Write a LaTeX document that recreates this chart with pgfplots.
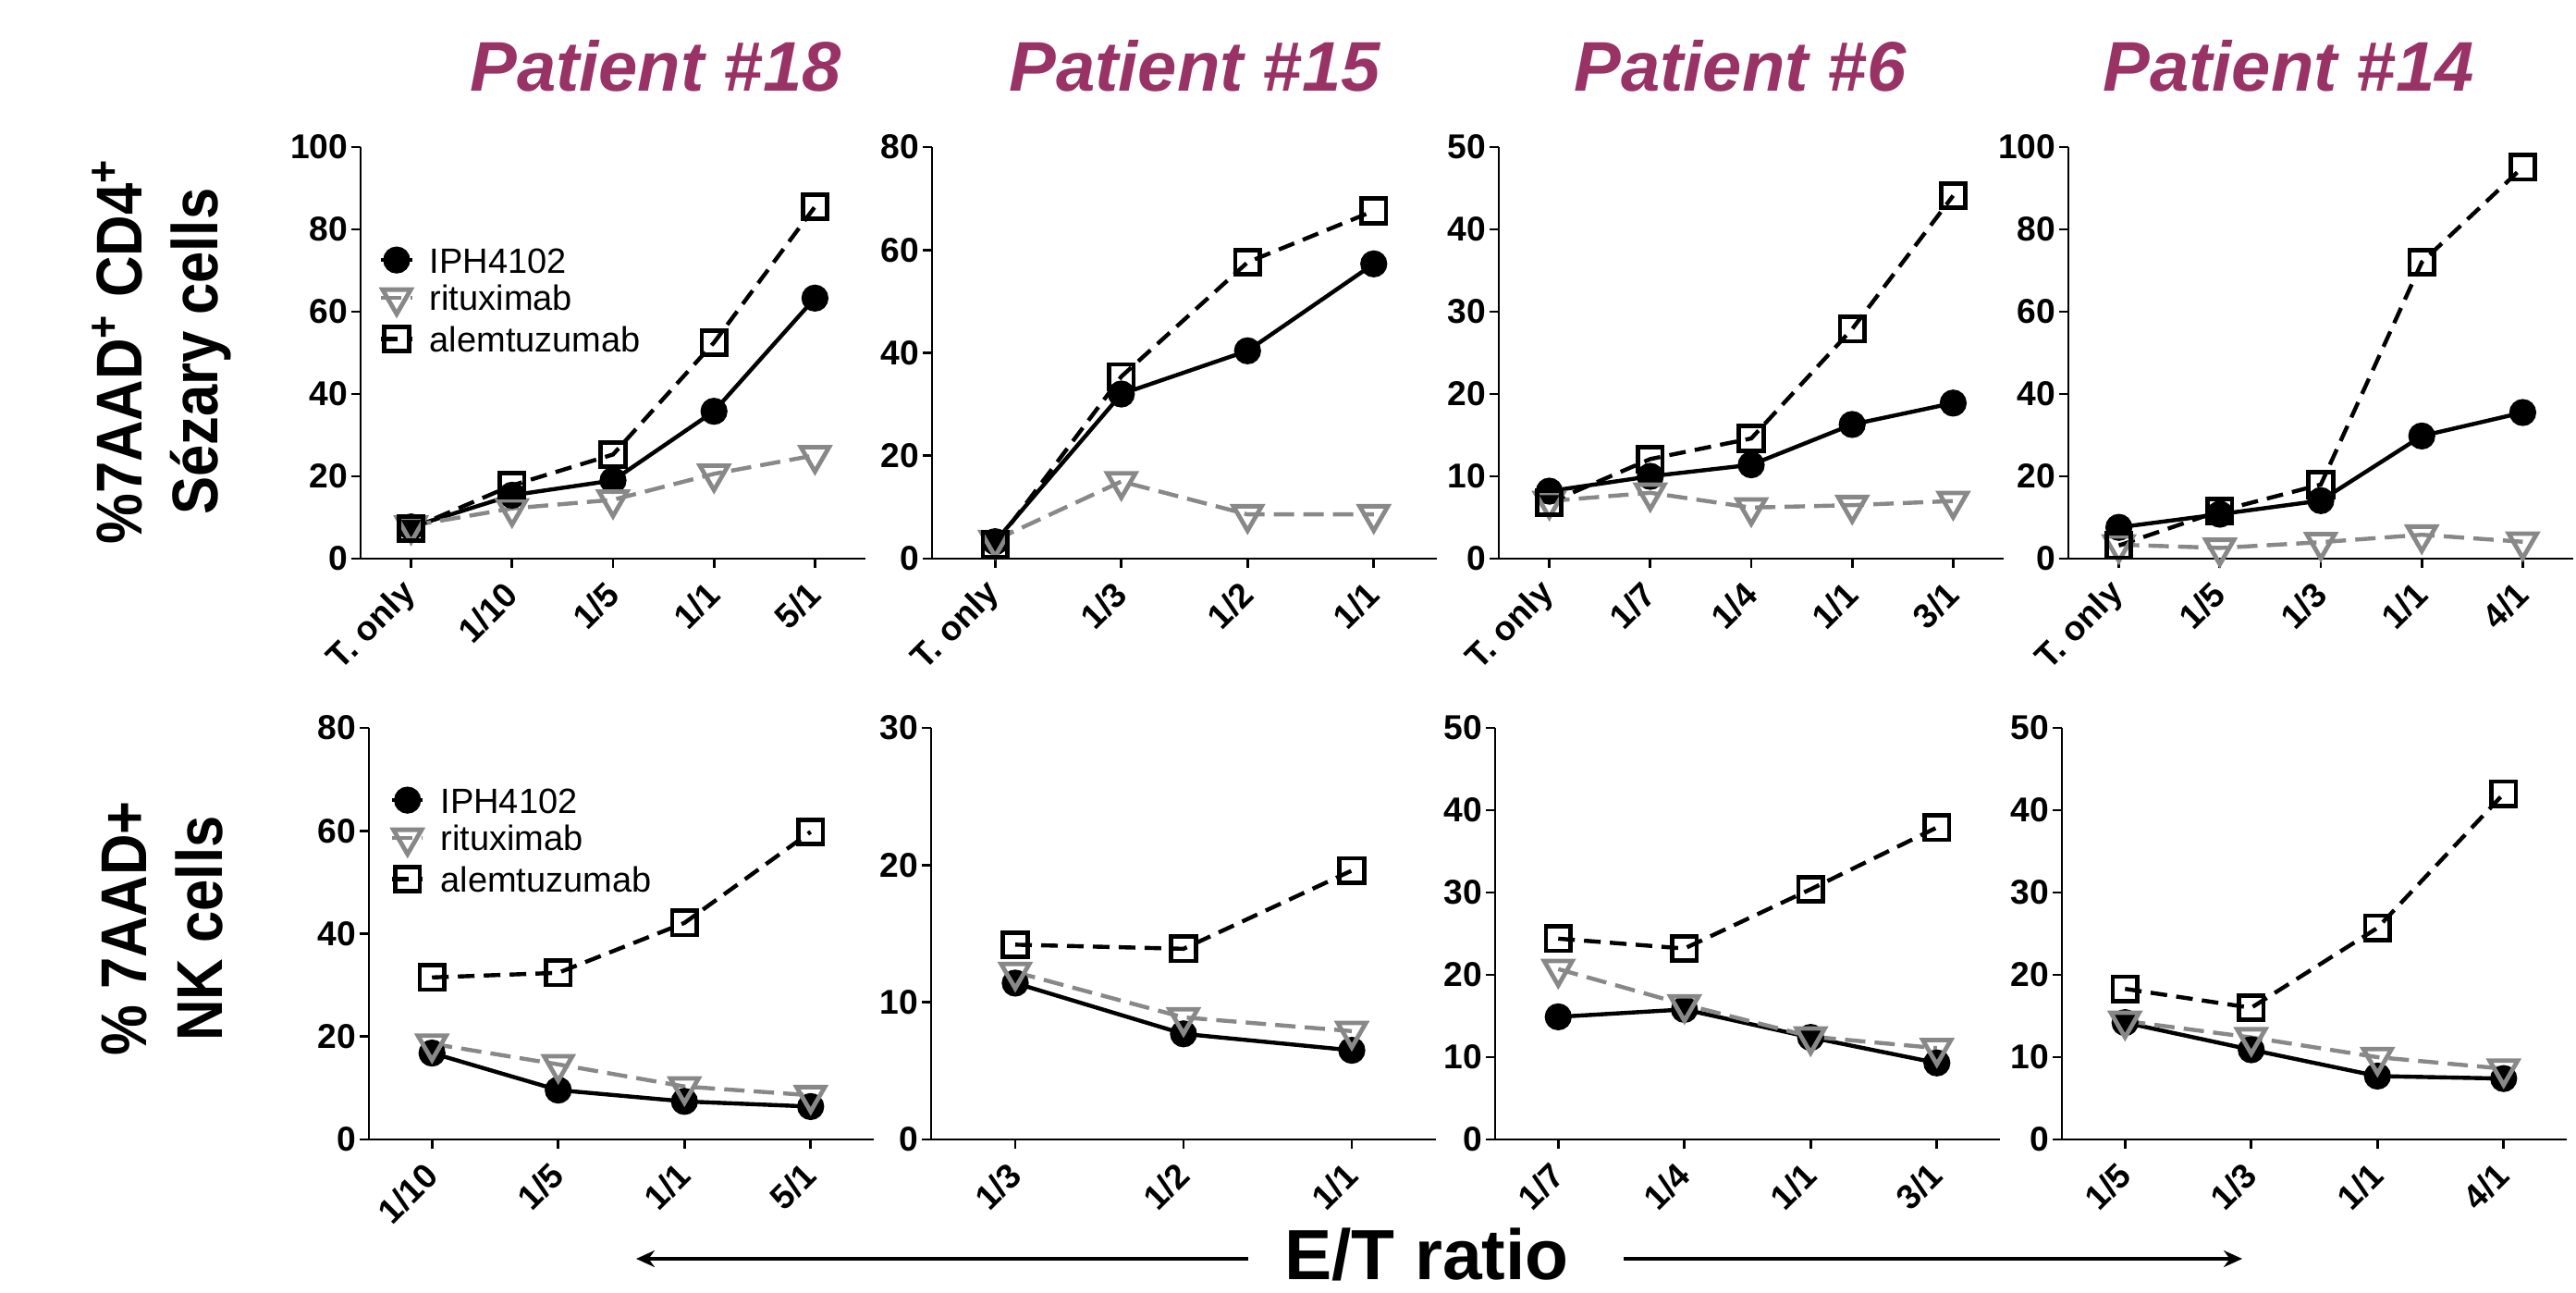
\documentclass[border=0pt]{standalone}
\usepackage{fontspec}
\setmainfont{Liberation Sans}
\newfontfamily\labelfont{Liberation Sans}[FakeStretch=0.88]
\usepackage{pgfplots}
\pgfplotsset{compat=1.18}
\usetikzlibrary{arrows.meta}
\definecolor{titlecol}{RGB}{153,51,102}
\definecolor{ritgray}{RGB}{136,136,136}

\pgfplotsset{
  panel/.style={
    scale only axis,
    width=136.5pt, height=111.25pt,
    axis x line*=bottom, axis y line*=left,
    axis line style={line width=0.7pt,-},
    every tick/.style={black, line width=0.7pt},
    tick align=outside,
    major tick length=2.5pt,
    ymin=0,
    clip=false,
    /pgf/number format/assume math mode=true,
    tick label style={font=\bfseries\fontsize{9.3}{10}\selectfont},
    yticklabel style={inner sep=0.75pt},
    xticklabel style={rotate=45, anchor=east, inner sep=0pt},
    xticklabel shift=5.5pt,
    legend cell align=left,
    legend image code/.code={\draw[mark repeat=2,mark phase=2,##1] plot coordinates {(0pt,0pt) (4.15pt,0pt) (8.3pt,0pt)};},
  },
  iph/.style={black, line width=1.1pt, solid, mark=*, mark size=3.1pt, mark options={solid, fill=black}},
  rit/.style={ritgray, line width=1.1pt, dash pattern=on 5.5pt off 2.5pt, mark=triangle, mark size=4.4pt, mark options={solid, rotate=180, fill=white, draw=ritgray, line width=1.2pt}},
  ale/.style={black, line width=1.1pt, dash pattern=on 4.5pt off 2.5pt, mark=square, mark size=3.3pt, mark options={solid, fill=white, draw=black, line width=1.2pt}},
  leg/.style={legend entries={IPH4102,rituximab,alemtuzumab},
    legend style={at={(#1)}, anchor=north west, draw=none, fill=none, inner sep=0pt, outer sep=0pt,
      row sep=3.2pt, column sep=4.25pt, font=\fontsize{9.5}{10}\selectfont,
      nodes={inner sep=0pt, text height=7pt, text depth=0pt}}},
}

\begin{document}
\begin{tikzpicture}
\useasboundingbox (0,0) rectangle (696.5pt,349.25pt);

% ---------- Top row ----------
\begin{axis}[panel, at={(97.5pt,198.25pt)}, anchor=south west,
  xmin=-0.5, xmax=4.5, xtick={0,...,4}, xticklabels={T. only,1/10,1/5,1/1,5/1},
  ymax=100, ytick={0,20,...,100}, leg={0.037,0.757}]
\addplot[iph] coordinates {(0,7.7) (1,15.4) (2,19) (3,35.8) (4,63.3)};
\addplot[rit] coordinates {(0,8) (1,12.2) (2,14.3) (3,20.6) (4,25.1)};
\addplot[ale] coordinates {(0,7.3) (1,17.8) (2,25.3) (3,52.5) (4,85.5)};
\end{axis}

\begin{axis}[panel, at={(252pt,198.25pt)}, anchor=south west,
  xmin=-0.5, xmax=3.5, xtick={0,...,3}, xticklabels={T. only,1/3,1/2,1/1},
  ymax=80, ytick={0,20,...,80}]
\addplot[iph] coordinates {(0,3.3) (1,32) (2,40.4) (3,57.3)};
\addplot[rit] coordinates {(0,3.6) (1,15) (2,8.6) (3,8.6)};
\addplot[ale] coordinates {(0,2.7) (1,35.4) (2,57.6) (3,67.6)};
\end{axis}

\begin{axis}[panel, at={(405.25pt,198.25pt)}, anchor=south west,
  xmin=-0.5, xmax=4.5, xtick={0,...,4}, xticklabels={T. only,1/7,1/4,1/1,3/1},
  ymax=50, ytick={0,10,...,50}]
\addplot[iph] coordinates {(0,8.2) (1,10) (2,11.4) (3,16.3) (4,18.9)};
\addplot[rit] coordinates {(0,7.0) (1,8.0) (2,6.2) (3,6.5) (4,7.0)};
\addplot[ale] coordinates {(0,6.8) (1,12.1) (2,14.6) (3,27.9) (4,44.1)};
\end{axis}

\begin{axis}[panel, at={(559.25pt,198.25pt)}, anchor=south west,
  xmin=-0.5, xmax=4.5, xtick={0,...,4}, xticklabels={T. only,1/5,1/3,1/1,4/1},
  ymax=100, ytick={0,20,...,100}]
\addplot[iph] coordinates {(0,7.6) (1,10.8) (2,14.1) (3,29.8) (4,35.5)};
\addplot[rit] coordinates {(0,3.4) (1,2.6) (2,4.0) (3,5.8) (4,4.1)};
\addplot[ale] coordinates {(0,3.2) (1,11.6) (2,18.0) (3,72.0) (4,95.1)};
\end{axis}

% ---------- Bottom row ----------
\begin{axis}[panel, at={(99.75pt,41.25pt)}, anchor=south west,
  xmin=-0.5, xmax=3.5, xtick={0,...,3}, xticklabels={1/10,1/5,1/1,5/1},
  ymax=80, ytick={0,20,...,80}, leg={0.042,0.856}]
\addplot[iph] coordinates {(0,16.8) (1,9.6) (2,7.4) (3,6.4)};
\addplot[rit] coordinates {(0,18.6) (1,14.6) (2,10.3) (3,8.6)};
\addplot[ale] coordinates {(0,31.5) (1,32.4) (2,42.1) (3,59.8)};
\end{axis}

\begin{axis}[panel, at={(251.75pt,41.25pt)}, anchor=south west,
  xmin=-0.5, xmax=2.5, xtick={0,...,2}, xticklabels={1/3,1/2,1/1},
  ymax=30, ytick={0,10,...,30}]
\addplot[iph] coordinates {(0,11.4) (1,7.7) (2,6.5)};
\addplot[rit] coordinates {(0,12.2) (1,8.9) (2,7.9)};
\addplot[ale] coordinates {(0,14.2) (1,13.9) (2,19.6)};
\end{axis}

\begin{axis}[panel, at={(404.25pt,41.25pt)}, anchor=south west,
  xmin=-0.5, xmax=3.5, xtick={0,...,3}, xticklabels={1/7,1/4,1/1,3/1},
  ymax=50, ytick={0,10,...,50}]
\addplot[iph] coordinates {(0,14.9) (1,15.8) (2,12.4) (3,9.3)};
\addplot[rit] coordinates {(0,20.7) (1,16.4) (2,12.5) (3,11.1)};
\addplot[ale] coordinates {(0,24.4) (1,23.2) (2,30.4) (3,37.9)};
\end{axis}

\begin{axis}[panel, at={(557.5pt,41.25pt)}, anchor=south west,
  xmin=-0.5, xmax=3.5, xtick={0,...,3}, xticklabels={1/5,1/3,1/1,4/1},
  ymax=50, ytick={0,10,...,50}]
\addplot[iph] coordinates {(0,14.2) (1,10.9) (2,7.7) (3,7.4)};
\addplot[rit] coordinates {(0,14.4) (1,12.4) (2,10.0) (3,8.6)};
\addplot[ale] coordinates {(0,18.3) (1,16.0) (2,25.7) (3,42.0)};
\end{axis}

% ---------- Titles ----------
\begin{scope}[every node/.style={anchor=base, text=titlecol, font=\bfseries\itshape\fontsize{19}{20}\selectfont}]
\node at (177.25pt,324.75pt) {Patient \#18};
\node at (323pt,324.75pt) {Patient \#15};
\node at (470.5pt,324.75pt) {Patient \#6};
\node at (618.75pt,324.75pt) {Patient \#14};
\end{scope}

% ---------- Y labels ----------
\node[rotate=90, align=center, font=\labelfont\bfseries\fontsize{17.5}{20.5}\selectfont]
  at (43.75pt,254.25pt) {\%7AAD\textsuperscript{+} CD4\textsuperscript{+}\\Sézary cells};
\node[rotate=90, align=center, font=\labelfont\bfseries\fontsize{17.5}{20.5}\selectfont]
  at (43.75pt,98.25pt) {\% 7AAD+\\NK cells};

% ---------- E/T ratio ----------
\node[anchor=base, inner sep=0pt, font=\bfseries\fontsize{19.2}{20}\selectfont] at (385.75pt,3.5pt) {E/T ratio};
\draw[-{Stealth[length=5pt,width=4.5pt]}, line width=0.8pt] (337.5pt,9pt) -- (172pt,9pt);
\draw[-{Stealth[length=5pt,width=4.5pt]}, line width=0.8pt] (439pt,9pt) -- (606.25pt,9pt);
\end{tikzpicture}
\end{document}
